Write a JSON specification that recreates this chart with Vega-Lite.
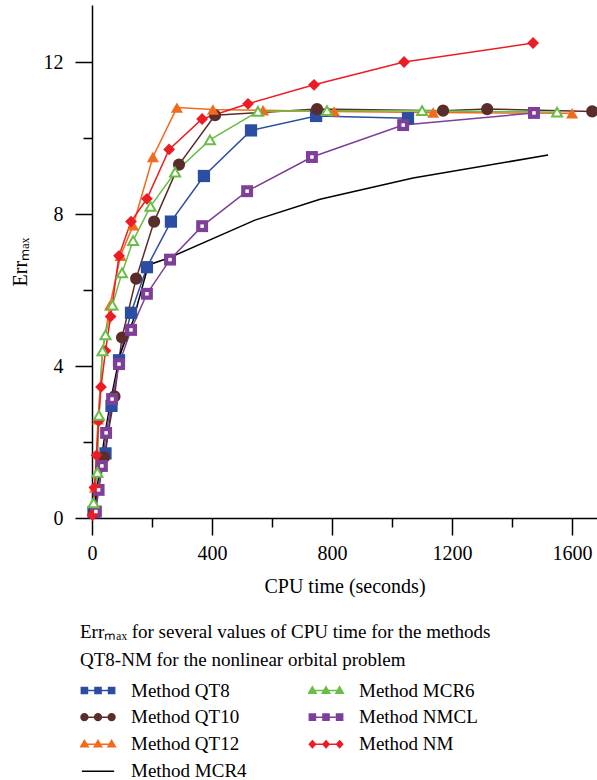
{
  "$schema": "https://vega.github.io/schema/vega-lite/v6.json",
  "autosize": {"type": "none"},
  "padding": {"left": 92, "top": 5, "right": 0, "bottom": 262},
  "width": 505,
  "height": 513,
  "config": {
    "font": "Liberation Serif",
    "view": {"stroke": null},
    "axis": {"grid": false, "domainColor": "#000", "domainWidth": 1.5, "tickColor": "#000", "tickWidth": 1.5, "labelColor": "#000", "titleColor": "#000", "labelFontSize": 20, "titleFontSize": 20, "titleFontWeight": "normal", "labelFont": "Liberation Serif", "titleFont": "Liberation Serif"},
    "legend": {"labelFont": "Liberation Serif", "titleFont": "Liberation Serif"}
  },
  "data": {"values": [
    {"method": "Method QT8", "t": 5, "err": 0.15},
    {"method": "Method QT8", "t": 45, "err": 1.7},
    {"method": "Method QT8", "t": 65, "err": 2.95},
    {"method": "Method QT8", "t": 90, "err": 4.15},
    {"method": "Method QT8", "t": 130, "err": 5.4},
    {"method": "Method QT8", "t": 183, "err": 6.6},
    {"method": "Method QT8", "t": 263, "err": 7.8},
    {"method": "Method QT8", "t": 373, "err": 9.0},
    {"method": "Method QT8", "t": 530, "err": 10.2},
    {"method": "Method QT8", "t": 747, "err": 10.58},
    {"method": "Method QT8", "t": 1053, "err": 10.52},
    {"method": "Method QT10", "t": 8, "err": 0.15},
    {"method": "Method QT10", "t": 40, "err": 1.6},
    {"method": "Method QT10", "t": 75, "err": 3.2},
    {"method": "Method QT10", "t": 100, "err": 4.75},
    {"method": "Method QT10", "t": 147, "err": 6.3},
    {"method": "Method QT10", "t": 207, "err": 7.8},
    {"method": "Method QT10", "t": 290, "err": 9.3},
    {"method": "Method QT10", "t": 410, "err": 10.6},
    {"method": "Method QT10", "t": 750, "err": 10.76},
    {"method": "Method QT10", "t": 1170, "err": 10.72},
    {"method": "Method QT10", "t": 1317, "err": 10.76},
    {"method": "Method QT10", "t": 1667, "err": 10.7},
    {"method": "Method QT12", "t": 5, "err": 0.2},
    {"method": "Method QT12", "t": 10, "err": 0.8},
    {"method": "Method QT12", "t": 20, "err": 2.6},
    {"method": "Method QT12", "t": 35, "err": 4.4},
    {"method": "Method QT12", "t": 60, "err": 5.6},
    {"method": "Method QT12", "t": 95, "err": 6.9},
    {"method": "Method QT12", "t": 137, "err": 7.7},
    {"method": "Method QT12", "t": 203, "err": 9.5},
    {"method": "Method QT12", "t": 283, "err": 10.8},
    {"method": "Method QT12", "t": 403, "err": 10.75},
    {"method": "Method QT12", "t": 570, "err": 10.73},
    {"method": "Method QT12", "t": 807, "err": 10.7},
    {"method": "Method QT12", "t": 1137, "err": 10.67},
    {"method": "Method QT12", "t": 1600, "err": 10.65},
    {"method": "Method MCR4", "t": 0, "err": 0.0},
    {"method": "Method MCR4", "t": 15, "err": 0.7},
    {"method": "Method MCR4", "t": 30, "err": 1.5},
    {"method": "Method MCR4", "t": 45, "err": 2.3},
    {"method": "Method MCR4", "t": 65, "err": 3.2},
    {"method": "Method MCR4", "t": 93, "err": 4.3},
    {"method": "Method MCR4", "t": 137, "err": 5.2},
    {"method": "Method MCR4", "t": 188, "err": 6.66},
    {"method": "Method MCR4", "t": 258, "err": 6.85},
    {"method": "Method MCR4", "t": 543, "err": 7.84},
    {"method": "Method MCR4", "t": 760, "err": 8.39},
    {"method": "Method MCR4", "t": 1070, "err": 8.95},
    {"method": "Method MCR4", "t": 1520, "err": 9.55},
    {"method": "Method MCR6", "t": 5, "err": 0.4},
    {"method": "Method MCR6", "t": 18, "err": 1.2},
    {"method": "Method MCR6", "t": 23, "err": 2.7},
    {"method": "Method MCR6", "t": 35, "err": 4.4},
    {"method": "Method MCR6", "t": 45, "err": 4.82},
    {"method": "Method MCR6", "t": 68, "err": 5.6},
    {"method": "Method MCR6", "t": 100, "err": 6.45},
    {"method": "Method MCR6", "t": 137, "err": 7.3},
    {"method": "Method MCR6", "t": 195, "err": 8.2},
    {"method": "Method MCR6", "t": 277, "err": 9.1},
    {"method": "Method MCR6", "t": 393, "err": 9.95},
    {"method": "Method MCR6", "t": 553, "err": 10.7},
    {"method": "Method MCR6", "t": 783, "err": 10.72},
    {"method": "Method MCR6", "t": 1100, "err": 10.72},
    {"method": "Method MCR6", "t": 1550, "err": 10.68},
    {"method": "Method NMCL", "t": 13, "err": 0.17},
    {"method": "Method NMCL", "t": 22, "err": 0.74},
    {"method": "Method NMCL", "t": 33, "err": 1.37},
    {"method": "Method NMCL", "t": 47, "err": 2.24},
    {"method": "Method NMCL", "t": 67, "err": 3.13},
    {"method": "Method NMCL", "t": 90, "err": 4.05},
    {"method": "Method NMCL", "t": 130, "err": 4.95},
    {"method": "Method NMCL", "t": 183, "err": 5.9},
    {"method": "Method NMCL", "t": 260, "err": 6.8},
    {"method": "Method NMCL", "t": 367, "err": 7.68},
    {"method": "Method NMCL", "t": 517, "err": 8.6},
    {"method": "Method NMCL", "t": 733, "err": 9.5},
    {"method": "Method NMCL", "t": 1037, "err": 10.34},
    {"method": "Method NMCL", "t": 1473, "err": 10.66},
    {"method": "Method NM", "t": 2, "err": 0.08},
    {"method": "Method NM", "t": 8, "err": 0.8},
    {"method": "Method NM", "t": 15, "err": 1.65},
    {"method": "Method NM", "t": 22, "err": 2.55},
    {"method": "Method NM", "t": 30, "err": 3.45},
    {"method": "Method NM", "t": 45, "err": 4.4},
    {"method": "Method NM", "t": 62, "err": 5.3},
    {"method": "Method NM", "t": 90, "err": 6.9},
    {"method": "Method NM", "t": 130, "err": 7.8},
    {"method": "Method NM", "t": 183, "err": 8.4},
    {"method": "Method NM", "t": 257, "err": 9.7},
    {"method": "Method NM", "t": 367, "err": 10.5},
    {"method": "Method NM", "t": 520, "err": 10.9},
    {"method": "Method NM", "t": 740, "err": 11.4},
    {"method": "Method NM", "t": 1040, "err": 12.0},
    {"method": "Method NM", "t": 1470, "err": 12.5}
  ]},
  "encoding": {
    "x": {"field": "t", "type": "quantitative",
      "scale": {"domain": [0, 1683], "nice": false, "zero": false},
      "axis": {"title": "CPU time (seconds)", "values": [0, 200, 400, 600, 800, 1000, 1200, 1400, 1600],
        "labelExpr": "datum.value % 400 === 0 ? datum.label : ''",
        "format": "d",
        "tickSize": {"condition": {"test": "datum.value % 400 === 0", "value": 17}, "value": 9},
        "labelPadding": 8, "titlePadding": 13, "labelFlush": false, "labelOverlap": false}},
    "y": {"field": "err", "type": "quantitative",
      "scale": {"domain": [0, 13.5], "nice": false},
      "axis": {"title": "Errₘₐₓ", "values": [0, 2, 4, 6, 8, 10, 12],
        "labelExpr": "datum.value % 4 === 0 ? datum.label : ''",
        "tickSize": {"condition": {"test": "datum.value % 4 === 0", "value": 17}, "value": 9},
        "labelPadding": 12, "titlePadding": 13, "labelFlush": false, "labelOverlap": false}}
  },
  "layer": [
    {
      "mark": {"type": "line", "strokeWidth": 1.5},
      "encoding": {
        "color": {"field": "method", "type": "nominal",
          "scale": {"domain": ["Method QT8", "Method QT10", "Method QT12", "Method MCR4", "Method MCR6", "Method NMCL", "Method NM"],
                    "range": ["#2B4EA2", "#5B2C2C", "#F26A1B", "#000000", "#6ABD45", "#7D3F98", "#ED1C24"]},
          "legend": {
            "orient": "none", "legendX": -12, "legendY": 618,
            "columns": 2, "columnPadding": 61, "rowPadding": 0, "clipHeight": 26.3,
            "symbolSize": 1156, "symbolStrokeWidth": 1.5, "labelOffset": 15,
            "labelFontSize": 19, "labelColor": "#000",
            "title": ["Errₘₐₓ for several values of CPU time for the methods", "QT8-NM for the nonlinear orbital problem"],
            "titleFontSize": 19, "titleFontWeight": "normal", "titleColor": "#000", "titleLineHeight": 28, "titlePadding": 7, "titleLimit": 600,
            "encode": {"symbols": {"update": {
              "shape": {"signal": "datum.value === 'Method QT8' ? 'M-0.95,0H0.95M-0.98,-0.18H-0.62V0.18H-0.98ZM-0.18,-0.18H0.18V0.18H-0.18ZM0.62,-0.18H0.98V0.18H0.62Z' : datum.value === 'Method NMCL' ? 'M-0.95,0H0.95M-0.98,-0.18H-0.62V0.18H-0.98ZM-0.18,-0.18H0.18V0.18H-0.18ZM0.62,-0.18H0.98V0.18H0.62Z' : datum.value === 'Method QT10' ? 'M-0.95,0H0.95M-1,0A0.2,0.2 0 1,0 -0.6,0A0.2,0.2 0 1,0 -1,0ZM-0.2,0A0.2,0.2 0 1,0 0.2,0A0.2,0.2 0 1,0 -0.2,0ZM0.6,0A0.2,0.2 0 1,0 1,0A0.2,0.2 0 1,0 0.6,0Z' : (datum.value === 'Method QT12' || datum.value === 'Method MCR6') ? 'M-0.95,0H0.95M-0.8,-0.22L-0.58,0.16H-1.02ZM0,-0.22L0.22,0.16H-0.22ZM0.8,-0.22L1.02,0.16H0.58Z' : datum.value === 'Method NM' ? 'M-0.95,0H0.95M-0.8,-0.2L-0.62,0L-0.8,0.2L-0.98,0ZM0,-0.2L0.18,0L0,0.2L-0.18,0ZM0.8,-0.2L0.98,0L0.8,0.2L0.62,0Z' : 'M-0.95,0H0.95'"},
              "fill": {"signal": "scale('color', datum.value)"},
              "stroke": {"signal": "scale('color', datum.value)"},
              "strokeWidth": {"value": 1.5},
              "opacity": {"value": 1}
            }}}
          }}
      }
    },
    {
      "transform": [{"filter": "datum.method !== 'Method MCR4' && datum.method !== 'Method MCR6'"}],
      "mark": {"type": "point", "filled": true, "opacity": 1},
      "encoding": {
        "color": {"field": "method", "type": "nominal", "legend": null},
        "shape": {"field": "method", "type": "nominal", "legend": null,
          "scale": {"domain": ["Method QT8", "Method QT10", "Method QT12", "Method NMCL", "Method NM"],
                    "range": ["square", "circle", "triangle-up", "square", "diamond"]}},
        "size": {"field": "method", "type": "nominal", "legend": null,
          "scale": {"domain": ["Method QT8", "Method QT10", "Method QT12", "Method NMCL", "Method NM"],
                    "range": [150, 140, 120, 140, 190]}}
      }
    },
    {
      "transform": [{"filter": "datum.method === 'Method MCR6'"}],
      "mark": {"type": "point", "shape": "triangle-up", "filled": false, "size": 100, "strokeWidth": 2, "opacity": 1, "fill": "white"},
      "encoding": {
        "color": {"field": "method", "type": "nominal", "legend": null}
      }
    },
    {
      "transform": [{"filter": "datum.method === 'Method NMCL'"}],
      "mark": {"type": "point", "shape": "square", "filled": true, "size": 12, "color": "white", "opacity": 1},
      "encoding": {}
    }
  ]
}
